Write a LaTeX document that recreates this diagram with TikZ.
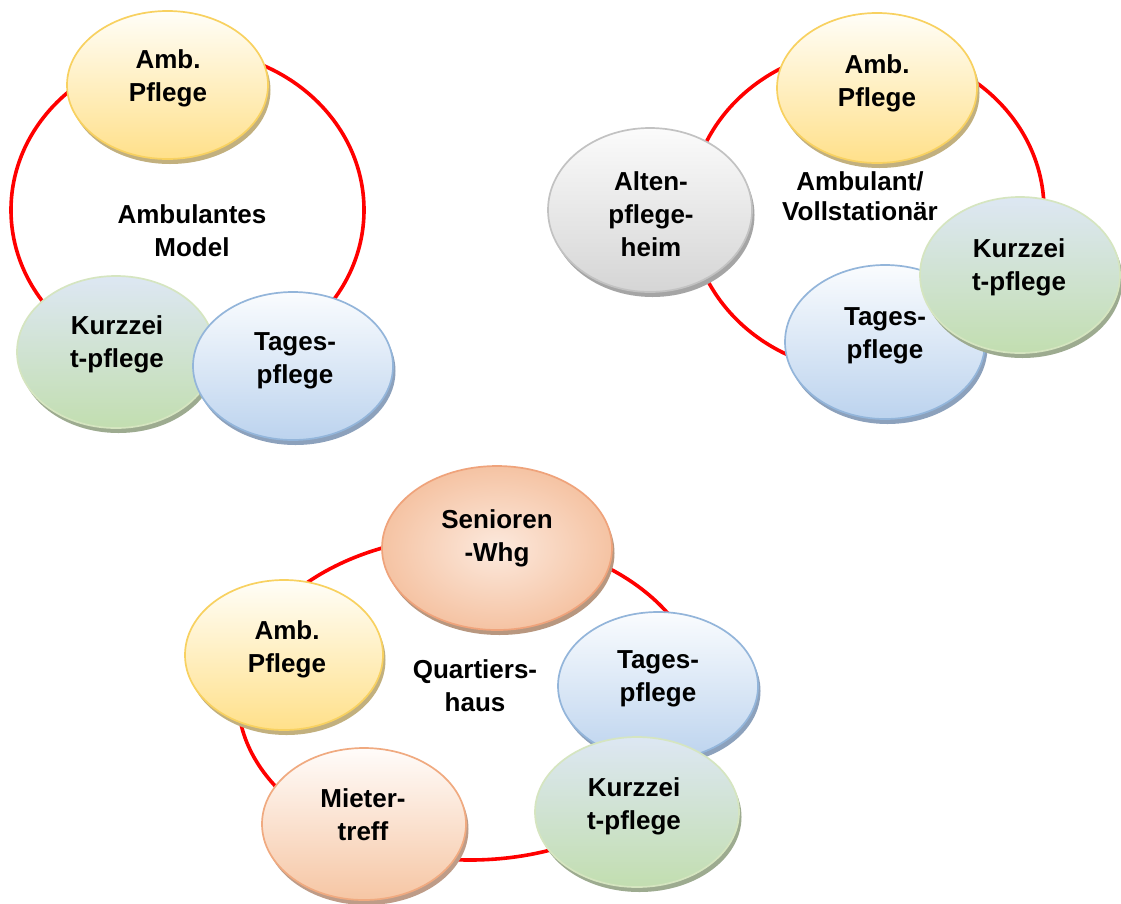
\documentclass[tikz,border=0pt]{standalone}
\usepackage{fontspec}
\setmainfont{Liberation Sans}
\usetikzlibrary{shapes.geometric,shadows}
\definecolor{AmbT}{HTML}{FFFEF8}\definecolor{AmbBo}{HTML}{FFE08A}\definecolor{AmbD}{HTML}{F8D160}\definecolor{AmbS}{HTML}{C2B07E}
\definecolor{KzT}{HTML}{DDE7F3}\definecolor{KzBo}{HTML}{C2DEB0}\definecolor{KzD}{HTML}{D5E5C0}\definecolor{KzS}{HTML}{9DAB90}
\definecolor{TgT}{HTML}{FAFCFE}\definecolor{TgBo}{HTML}{BCD3EE}\definecolor{TgD}{HTML}{93B5DA}\definecolor{TgS}{HTML}{8CA1BC}
\definecolor{AlT}{HTML}{FBFBFB}\definecolor{AlBo}{HTML}{D5D5D5}\definecolor{AlD}{HTML}{C2C2C2}\definecolor{AlS}{HTML}{A5A5A5}
\definecolor{SnL}{HTML}{FCE9DD}\definecolor{SnDk}{HTML}{F5C3A3}\definecolor{SnD}{HTML}{EFA37B}\definecolor{SnS}{HTML}{B8977F}
\definecolor{MtT}{HTML}{FFFCFA}\definecolor{MtBo}{HTML}{F6C6A4}\definecolor{MtD}{HTML}{F0AA80}\definecolor{MtS}{HTML}{BE9C88}
\definecolor{RingRed}{HTML}{FF0000}
\begin{document}
\begin{tikzpicture}[x=1pt,y=-1pt,
  bub/.style={ellipse, inner sep=0pt, line width=1.7pt},
  sz/.style 2 args={minimum width=#1pt, minimum height=#2pt},
  shd/.style={drop shadow={shadow xshift=2.5pt, shadow yshift=-5pt, fill=#1, opacity=1}},
  ambst/.style={bub, draw=AmbD, top color=AmbT, bottom color=AmbBo, shd=AmbS},
  kzst/.style={bub, draw=KzD, top color=KzT, bottom color=KzBo, shd=KzS},
  tgst/.style={bub, draw=TgD, top color=TgT, bottom color=TgBo, shd=TgS},
  alst/.style={bub, draw=AlD, top color=AlT, bottom color=AlBo, shd=AlS},
  snst/.style={bub, draw=SnD, inner color=SnL, outer color=SnDk, shd=SnS},
  mtst/.style={bub, draw=MtD, top color=MtT, bottom color=MtBo, shd=MtS},
  ringst/.style={ellipse, inner sep=0pt, draw=RingRed, line width=3.6pt},
  lbl/.style={font=\bfseries\fontsize{26}{33}\selectfont, align=center, inner sep=0pt, text=black},
  lbltight/.style={font=\bfseries\fontsize{26}{30}\selectfont, align=center, inner sep=0pt, text=black}
]
\useasboundingbox[fill=white] (0,0) rectangle (1121,903);

% ---------- Diagram 1 ----------
\node[ringst, sz={353}{320}] (ring1) at (187.5,210) {};
\node[ambst, sz={201}{148}] (a1) at (167.5,85) {};
\node[lbl] (a1t) at (168,78) {Amb.\\Pflege};
\node[kzst, sz={198}{152}] (k1) at (116,352) {};
\node[lbl] (k1t) at (117,344) {Kurzzei\\t-pflege};
\node[tgst, sz={200}{148}] (t1) at (293,366) {};
\node[lbl] (t1t) at (295,361) {Tages-\\pflege};
\node[lbl] (c1) at (192,231) {Ambulantes\\Model};

% ---------- Diagram 2 ----------
\node[ringst, sz={354}{324}] (ring2) at (867,210) {};
\node[alst, sz={204}{164}] (al) at (650,210) {};
\node[lbl] (alt) at (651,214) {Alten-\\pflege-\\heim};
\node[ambst, sz={200}{150}] (a2) at (877,88) {};
\node[lbl] (a2t) at (877,83) {Amb.\\Pflege};
\node[tgst, sz={200}{154}] (t2) at (885,342) {};
\node[lbl] (t2t) at (885,336) {Tages-\\pflege};
\node[kzst, sz={200}{156}] (k2) at (1020,275) {};
\node[lbl] (k2t) at (1019,267) {Kurzzei\\t-pflege};
\node[lbltight] (c2) at (860,196) {Ambulant/\\Vollstationär};

% ---------- Diagram 3 ----------
\node[ringst, sz={464}{324}] (ring3) at (470,698) {};
\node[snst, sz={230}{164}] (sn) at (497,548) {};
\node[lbl] (snt) at (497,538) {Senioren\\-Whg};
\node[ambst, sz={198}{150}] (a3) at (284,655) {};
\node[lbl] (a3t) at (287,649) {Amb.\\Pflege};
\node[tgst, sz={200}{148}] (t3) at (658,686) {};
\node[lbl] (t3t) at (658,679) {Tages-\\pflege};
\node[kzst, sz={204}{150}] (k3) at (637,812) {};
\node[lbl] (k3t) at (634,806) {Kurzzei\\t-pflege};
\node[mtst, sz={204}{152}] (mt) at (364,824) {};
\node[lbl] (mtt) at (363,815) {Mieter-\\treff};
\node[lbl] (c3) at (475,686) {Quartiers-\\haus};
\end{tikzpicture}
\end{document}
